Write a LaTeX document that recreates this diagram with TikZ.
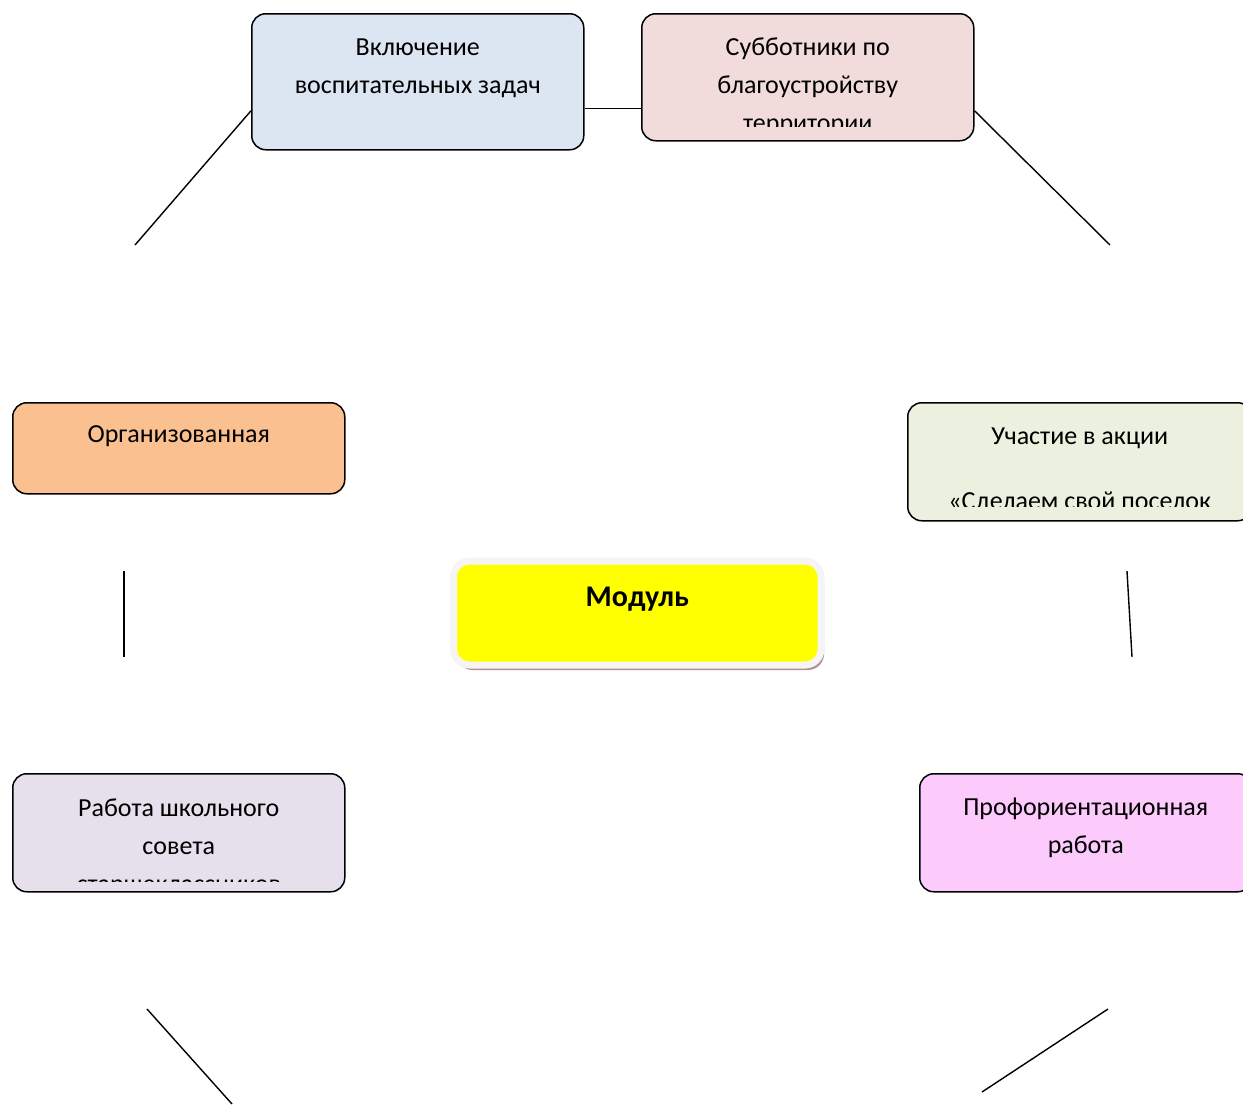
\documentclass[tikz,border=0pt]{standalone}
\usepackage{fontspec}
\setmainfont{Carlito}
\usetikzlibrary{positioning,shadows}

\definecolor{vklblue}{HTML}{DCE6F2}
\definecolor{subrose}{HTML}{F2DCDB}
\definecolor{orgpeach}{HTML}{FAC090}
\definecolor{uchgreen}{HTML}{EBF1DE}
\definecolor{rablilac}{HTML}{E5E0EC}
\definecolor{profpink}{HTML}{FCCBFC}
\definecolor{modyellow}{HTML}{FFFF00}
\definecolor{modshadow}{HTML}{B68E8E}

\tikzset{
  block/.style={draw, line width=0.75pt, rounded corners=7pt, anchor=north west,
    minimum width=166pt, inner sep=0pt},
  txt/.style={align=center, inner sep=0pt, font=\fontsize{13}{19}\selectfont},
  link/.style={draw, line width=0.7pt},
}

% text of a box, cut off a little above the lower border
\newcommand{\boxtext}[5][7.5pt]{%
  \begin{scope}
    \clip (#2.north west) rectangle ([yshift=#1]#2.south east);
    \node[txt, below=#4 of #2.north] (#3) {#5};
  \end{scope}}

\begin{document}
\begin{tikzpicture}[x=0.5pt, y=-0.5pt]
\useasboundingbox (0,0) rectangle (1243,1104);

% boxes
\node[block, fill=vklblue, minimum height=68pt] (vkl) at (251,13) {};
\node[block, fill=subrose, minimum height=63.5pt] (sub) at (641,13) {};
\node[block, fill=orgpeach, minimum height=45.5pt] (org) at (12,402) {};
\node[block, fill=uchgreen, minimum height=59pt, minimum width=172pt] (uch) at (907,402) {};
\node[block, fill=rablilac, minimum height=59pt] (rab) at (12,773) {};
\node[block, fill=profpink, minimum height=59pt] (prof) at (919,773) {};

\node[draw=gray!8, fill=modyellow, line width=3.5pt, rounded corners=8pt,
  minimum width=183.75pt, minimum height=52pt, anchor=north west,
  drop shadow={shadow xshift=1.5pt, shadow yshift=-2.5pt, fill=modshadow, opacity=1}]
  (modul) at (450,557.5) {};
\node[txt, font=\fontsize{15}{19}\selectfont\bfseries, below=14.75pt of modul.north] (modul-txt) {Модуль};

% texts
\boxtext{vkl}{vkl-txt}{12.5pt}{Включение\\воспитательных задач}
\boxtext{sub}{sub-txt}{12pt}{Субботники по\\благоустройству\\территории}
\boxtext{org}{org-txt}{11.5pt}{Организованная}
\boxtext{uch}{uch-txt}{12.5pt}{Участие в акции\\[13.5pt]«Сделаем свой поселок}
\boxtext[5.5pt]{rab}{rab-txt}{12.5pt}{Работа школьного\\совета\\старшеклассников}
\boxtext{prof}{prof-txt}{12.5pt}{Профориентационная\\работа}

% lines
\coordinate (c1) at (135,245);
\coordinate (c2) at (1110,245);
\coordinate (c3) at (124,571);
\coordinate (c4) at (124,657);
\coordinate (c5) at (1127,571);
\coordinate (c6) at (1132,657);
\coordinate (c7) at (147,1009);
\coordinate (c8) at (232,1104);
\coordinate (c9) at (1108,1009);
\coordinate (c10) at (982,1092);

\draw[link] ([yshift=-14.5pt]vkl.west) -- (c1);
\draw[link] ([yshift=-16.75pt]sub.east) -- (c2);
\draw[link] ([yshift=-13.5pt]vkl.east) -- ([yshift=-13.5pt]vkl.east -| sub.west);
\draw[link] (c3) -- (c4);
\draw[link] (c5) -- (c6);
\draw[link] (c7) -- (c8);
\draw[link] (c9) -- (c10);
\end{tikzpicture}
\end{document}
